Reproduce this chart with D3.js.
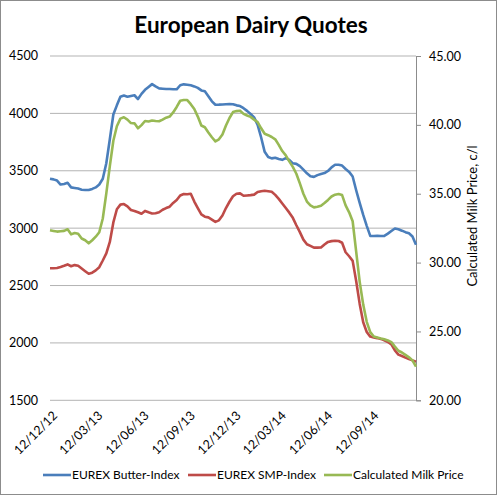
<!DOCTYPE html>
<html><head><meta charset="utf-8">
<script src="https://cdn.jsdelivr.net/npm/d3@7"></script>
<style>
html,body{margin:0;padding:0;background:#fff;}
text{font-family:Lato,"Open Sans",sans-serif;fill:#000;}
</style></head>
<body><svg id="c" width="499" height="497"></svg>
<script>
const xTickLabels = ["12/12/12","12/03/13","12/06/13","12/09/13","12/12/13","12/03/14","12/06/14","12/09/14"];
const leftTicks = [1500,2000,2500,3000,3500,4000,4500];
const rightTicks = [20,25,30,35,40,45];
const seriesNames = ["EUREX Butter-Index","EUREX SMP-Index","Calculated Milk Price"];
const butter = [3430,3425,3415,3380,3385,3395,3355,3350,3345,3335,3332,3332,3342,3355,3380,3430,3565,3775,3990,4070,
4145,4155,4145,4152,4158,4125,4170,4205,4230,4255,4235,4218,4215,4212,4212,4210,4210,4245,4253,4250,
4245,4235,4222,4200,4192,4150,4105,4075,4076,4078,4080,4081,4080,4070,4064,4045,4022,3995,3965,3900,
3790,3665,3620,3608,3614,3603,3595,3610,3595,3565,3560,3540,3510,3478,3452,3447,3462,3472,3480,3498,
3530,3552,3552,3545,3515,3490,3450,3330,3220,3115,3020,2933,2932,2934,2932,2933,2952,2975,2997,2990,
2978,2965,2955,2927,2855];
const smp = [2650,2650,2653,2662,2672,2684,2668,2678,2672,2648,2625,2603,2612,2632,2660,2718,2780,2880,3050,3165,
3205,3210,3190,3158,3150,3138,3125,3150,3138,3128,3130,3138,3160,3175,3187,3220,3245,3285,3298,3295,
3300,3232,3175,3120,3100,3094,3075,3055,3068,3110,3175,3230,3278,3300,3303,3282,3285,3288,3292,3315,
3322,3326,3322,3317,3290,3255,3215,3175,3135,3090,3025,2965,2900,2860,2845,2830,2830,2832,2858,2880,
2887,2890,2888,2873,2790,2755,2715,2540,2340,2180,2095,2055,2047,2042,2035,2022,2008,1988,1935,1898,
1886,1872,1860,1848,1836];
const milk = [32.35,32.30,32.25,32.28,32.30,32.42,32.05,32.15,32.10,31.75,31.62,31.40,31.62,31.88,32.20,33.20,35.03,37.00,38.85,39.90,
40.45,40.55,40.38,40.13,40.11,39.75,39.98,40.28,40.25,40.32,40.28,40.26,40.38,40.52,40.60,40.90,41.30,41.75,41.80,41.80,
41.50,41.15,40.60,39.95,39.83,39.45,39.10,38.80,38.95,39.30,39.95,40.50,40.93,41.00,41.03,40.80,40.68,40.58,40.38,40.20,
39.75,39.35,39.25,39.12,38.95,38.55,38.10,37.78,37.35,36.95,36.45,35.75,35.00,34.43,34.15,34.01,34.05,34.13,34.33,34.55,
34.80,34.93,34.98,34.90,34.15,33.65,33.00,30.80,28.60,26.95,25.70,24.95,24.63,24.56,24.49,24.43,24.35,24.22,23.90,23.60,
23.47,23.30,23.12,22.90,22.44];

const parse = d3.timeParse("%d/%m/%y");
const start = parse("12/12/12");
const dates = butter.map((_, i) => d3.timeDay.offset(start, 7 * i));
const colors = ["#4a7ebb", "#be4b48", "#98b954"];

const svg = d3.select("#c");
const L = 50, R = 416, T = 56, B = 400.3;

svg.append("rect").attr("x",0.5).attr("y",0.5).attr("width",496).attr("height",494)
  .attr("fill","#fff").attr("stroke","#8c8c8c");

const x = d3.scaleTime().domain([dates[0], dates[dates.length-1]]).range([L, R]);
const yL = d3.scaleLinear().domain([1500,4500]).range([B, T]);
const yR = d3.scaleLinear().domain([20,45]).range([B, T]);

// gridlines
svg.append("g").selectAll("line").data(leftTicks).join("line")
  .attr("x1", L).attr("x2", R).attr("y1", d => yL(d)).attr("y2", d => yL(d))
  .attr("stroke", "#b3b3b3").attr("stroke-width", 1);

// left labels
svg.append("g").selectAll("text").data(leftTicks).join("text")
  .attr("x", 38).attr("y", d => yL(d)).attr("dy","0.35em").attr("text-anchor","end")
  .attr("font-size", 12.5).text(d => d);

// right axis
const ra = svg.append("g").attr("transform", `translate(${R},0)`)
  .call(d3.axisRight(yR).tickValues(rightTicks).tickSize(5).tickPadding(8).tickFormat(d3.format(".2f")));
ra.select(".domain").attr("stroke","#8c8c8c");
ra.selectAll(".tick line").attr("stroke","#8c8c8c");
ra.selectAll("text").attr("font-size",12.5).attr("font-family","Lato").attr("fill","#000");

svg.append("text").attr("transform","translate(477,216) rotate(-90)")
  .attr("text-anchor","middle").attr("font-size",13).text("Calculated Milk Price, c/l");

// x labels
const xTicks = xTickLabels.map(parse);
svg.append("g").selectAll("text").data(xTicks).join("text")
  .attr("transform", (d) => `translate(${x(d)+5},${B+13}) rotate(-45)`)
  .attr("text-anchor","end").attr("dy","0.35em").attr("font-size",12.5)
  .text((d,i) => xTickLabels[i]);

// lines
const lineL = d3.line().x((d,i) => x(dates[i])).y(d => yL(d));
const lineR = d3.line().x((d,i) => x(dates[i])).y(d => yR(d));
[[butter, lineL],[smp, lineL],[milk, lineR]].forEach(([data, gen], k) => {
  svg.append("path").attr("d", gen(data)).attr("fill","none")
    .attr("stroke", colors[k]).attr("stroke-width", 2.6).attr("stroke-linejoin","round");
});

// title
svg.append("text").attr("x", 251).attr("y", 33).attr("text-anchor","middle")
  .attr("font-size", 22.5).attr("font-weight","bold").text("European Dairy Quotes");

// legend
const legX = [43, 188, 324];
seriesNames.forEach((n, k) => {
  svg.append("line").attr("x1", legX[k]).attr("x2", legX[k]+28).attr("y1", 475).attr("y2", 475)
    .attr("stroke", colors[k]).attr("stroke-width", 2.6);
  svg.append("text").attr("x", legX[k]+29).attr("y", 475).attr("dy","0.35em")
    .attr("font-size", 12).text(n);
});
</script></body></html>
